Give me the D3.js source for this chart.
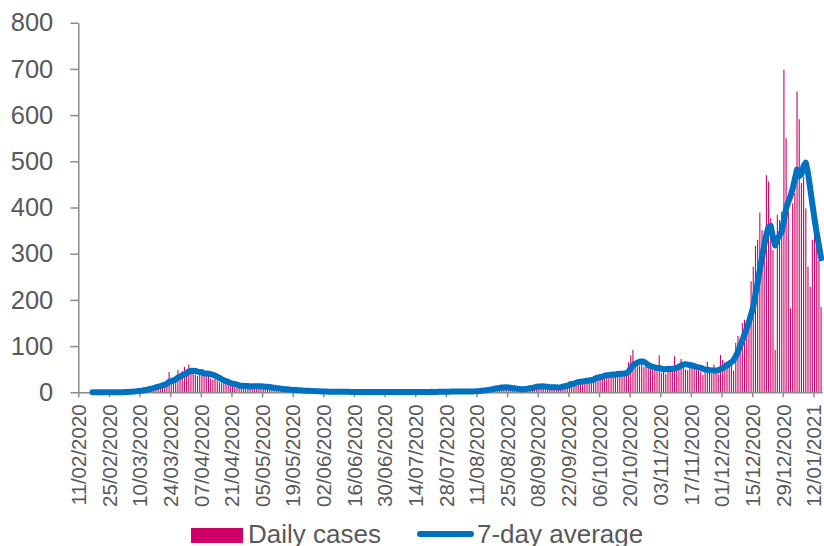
<!DOCTYPE html>
<html>
<head>
<meta charset="utf-8">
<script src="https://cdn.jsdelivr.net/npm/d3@7"></script>
<style>
  body { margin: 0; background: #fff; }
  svg { display: block; font-family: "Liberation Sans", Arial, sans-serif; }
</style>
</head>
<body>
<svg width="824" height="546"></svg>
<script>
// first day of the series, one value per day after it
var startDate = "11/02/2020";

var tickLabels = ["11/02/2020", "25/02/2020", "10/03/2020", "24/03/2020", "07/04/2020",
  "21/04/2020", "05/05/2020", "19/05/2020", "02/06/2020", "16/06/2020", "30/06/2020",
  "14/07/2020", "28/07/2020", "11/08/2020", "25/08/2020", "08/09/2020", "22/09/2020",
  "06/10/2020", "20/10/2020", "03/11/2020", "17/11/2020", "01/12/2020", "15/12/2020",
  "29/12/2020", "12/01/2021"];

var yTicks = [0, 100, 200, 300, 400, 500, 600, 700, 800];

// daily cases, 14 days per row (row starts at each tick label)
var dailyCases = [
  0, 0, 0, 0, 0, 0, 0, 0, 0, 0, 0, 0, 0, 0,
  0, 0, 0, 0, 1, 0, 1, 2, 1, 2, 3, 2, 4, 5,
  5, 7, 8, 9, 12, 10, 14, 16, 18, 15, 20, 22, 24, 44,
  26, 30, 28, 48, 35, 46, 55, 42, 60, 40, 44, 38, 35, 45,
  44, 40, 38, 42, 30, 28, 32, 26, 22, 20, 24, 18, 16, 15,
  14, 18, 12, 10, 16, 13, 11, 15, 12, 14, 10, 16, 13, 12,
  11, 9, 12, 8, 7, 10, 6, 8, 5, 7, 4, 6, 5, 3,
  4, 5, 3, 4, 2, 3, 4, 2, 3, 1, 2, 2, 1, 2,
  1, 2, 1, 0, 1, 2, 1, 1, 0, 2, 1, 1, 0, 1,
  1, 0, 1, 1, 2, 0, 1, 0, 1, 1, 0, 2, 1, 0,
  0, 1, 0, 1, 0, 1, 2, 0, 1, 0, 1, 1, 0, 1,
  1, 0, 2, 1, 0, 1, 1, 2, 0, 1, 2, 1, 1, 2,
  2, 1, 3, 1, 2, 2, 1, 3, 2, 1, 2, 3, 2, 4,
  3, 4, 6, 5, 7, 8, 9, 10, 12, 11, 9, 13, 10, 11,
  8, 6, 5, 7, 9, 6, 4, 8, 10, 12, 14, 11, 16, 13,
  12, 10, 15, 9, 8, 11, 13, 10, 9, 14, 12, 16, 18, 20,
  24, 22, 18, 26, 28, 20, 25, 30, 27, 24, 32, 34, 38, 36,
  40, 30, 42, 38, 36, 44, 40, 35, 45, 38, 42, 40, 48, 65,
  80, 92, 65, 60, 58, 62, 55, 60, 52, 50, 48, 55, 45, 80,
  42, 48, 40, 52, 45, 50, 78, 55, 62, 72, 58, 50, 48, 65,
  55, 62, 48, 60, 45, 38, 42, 66, 45, 40, 60, 42, 40, 81,
  70, 66, 62, 65, 60, 47, 107, 122, 118, 150, 157, 135, 171, 240,
  272, 317, 330, 389, 351, 300, 470, 456, 377, 308, 92, 384, 373, 391,
  698, 550, 391, 182, 409, 431, 651, 591, 453, 467, 398, 272, 229, 330,
  395, 330, 287, 185
];

var sevenDayAvg = [
  null, null, null, null, null, null, 0, 0, 0, 0, 0, 0, 0, 0,
  0, 0, 0, 0, 0.1, 0.1, 0.3, 0.6, 0.7, 1, 1.4, 1.6, 2, 2.7,
  3.1, 4, 4.9, 5.7, 7.1, 8, 9.3, 10.9, 12.4, 13.4, 15, 16.4, 18.4, 22.7,
  24.1, 25.9, 27.7, 31.7, 33.6, 36.7, 38.3, 40.6, 44.9, 46.6, 46, 46.4, 44.9, 43.4,
  43.7, 40.9, 40.6, 40.3, 39.1, 38.1, 36.3, 33.7, 31.1, 28.6, 26, 24.3, 22.6, 20.1,
  18.4, 17.9, 16.7, 14.7, 14.4, 14, 13.4, 13.6, 12.7, 13, 13, 13, 13, 13.1,
  12.6, 12.1, 11.9, 11.6, 10.3, 9.9, 9, 8.6, 8, 7.3, 6.7, 6.6, 5.9, 5.4,
  4.9, 4.9, 4.3, 4.3, 3.7, 3.4, 3.6, 3.3, 3, 2.7, 2.4, 2.4, 2.1, 1.9,
  1.7, 1.6, 1.4, 1.1, 1.1, 1.3, 1.1, 1.1, 1, 1, 1.1, 1.1, 0.9, 0.9,
  0.9, 0.7, 0.9, 0.9, 0.9, 0.9, 0.9, 0.7, 0.9, 0.9, 0.7, 0.7, 0.9, 0.7,
  0.7, 0.7, 0.6, 0.6, 0.4, 0.6, 0.7, 0.7, 0.7, 0.7, 0.7, 0.9, 0.6, 0.6,
  0.7, 0.6, 0.9, 0.9, 0.7, 0.9, 0.9, 1, 0.9, 0.9, 1, 1, 1.1, 1.3,
  1.3, 1.4, 1.6, 1.6, 1.7, 1.9, 1.7, 1.9, 2, 1.7, 1.9, 2, 2, 2.4,
  2.4, 2.7, 3.4, 3.9, 4.4, 5.3, 6, 7, 8.1, 8.9, 9.4, 10.3, 10.6, 10.9,
  10.6, 9.7, 8.9, 8.6, 8, 7.4, 6.4, 6.4, 7, 8, 9, 9.3, 10.7, 12,
  12.6, 12.6, 13, 12.3, 11.9, 11.1, 11.1, 10.9, 10.7, 10.6, 11, 12.1, 13.1, 14.1,
  16.1, 18, 18.6, 20.6, 22.3, 22.6, 23.3, 24.1, 24.9, 25.7, 26.6, 27.4, 30, 31.6,
  33, 33.4, 36, 36.9, 37.1, 38, 38.6, 37.9, 40, 39.4, 40, 40.6, 41.1, 44.7,
  52, 58, 62, 64, 66, 67, 66, 63, 59, 57, 55, 54, 52, 53,
  51, 50, 50, 51, 50, 51, 51, 53, 55, 58, 60, 61, 60, 59,
  58, 57, 55, 54, 53, 51, 49, 49, 48, 47, 47, 47, 48, 50,
  52, 55, 58, 62, 65, 70, 78, 88, 100, 112, 125, 138, 152, 168,
  185, 212, 238, 266, 292, 318, 342, 358, 360, 335, 318, 332, 340, 348,
  372, 398, 412, 425, 440, 462, 482, 468, 472, 490, 497, 475, 442, 408,
  375, 345, 318, 290
];

var textColor = "#595959", axisColor = "#8c8c8c";
var barColor = "#cc0066", lineColor = "#0070c0";

var svg = d3.select("svg");
var parseDate = d3.utcParse("%d/%m/%Y");
var start = parseDate(startDate);
var end = d3.utcDay.offset(start, dailyCases.length);

var x = d3.scaleUtc().domain([start, end]).range([78.3, 822.2]);
var y = d3.scaleLinear().domain([0, 800]).range([392.3, 22.7]);

var days = dailyCases.map((v, i) => ({
  date: d3.utcDay.offset(start, i),
  cases: v,
  avg: sevenDayAvg[i]
}));
var dayW = x(d3.utcDay.offset(start, 1)) - x(start);
var barW = 1.1;

// bars
svg.append("g")
  .selectAll("rect")
  .data(days)
  .enter()
  .append("rect")
  .attr("x", d => x(d.date) + (dayW - barW) / 2)
  .attr("y", d => y(d.cases))
  .attr("width", barW)
  .attr("height", d => y(0) - y(d.cases))
  .attr("fill", barColor);

// y axis
var yAxis = svg.append("g")
  .attr("transform", "translate(78.3,0)")
  .call(d3.axisLeft(y).tickValues(yTicks).tickSize(8).tickSizeOuter(0).tickPadding(17));
yAxis.selectAll("text")
  .attr("fill", textColor)
  .style("font-size", "25.5px")
  .style("font-family", "'Liberation Sans', Arial, sans-serif");

// x axis
var tickDates = tickLabels.map(parseDate);
var xAxis = svg.append("g")
  .attr("transform", "translate(0,392.3)")
  .call(d3.axisBottom(x).tickValues(tickDates).tickSize(5).tickSizeOuter(0)
    .tickFormat((d, i) => tickLabels[i]));
xAxis.selectAll("text")
  .attr("fill", textColor)
  .attr("transform", "rotate(-90)")
  .attr("text-anchor", "end")
  .attr("x", -12)
  .attr("y", 0)
  .attr("dy", "0.35em")
  .style("font-size", "20.5px")
  .style("font-family", "'Liberation Sans', Arial, sans-serif");

svg.selectAll(".domain, .tick line")
  .attr("stroke", axisColor)
  .attr("stroke-width", 1.5);

// 7-day average line
var line = d3.line()
  .defined(d => d.avg != null)
  .x(d => x(d.date) + dayW / 2)
  .y(d => y(d.avg));

svg.append("path")
  .datum(days)
  .attr("d", line)
  .attr("fill", "none")
  .attr("stroke", lineColor)
  .attr("stroke-width", 6)
  .attr("stroke-linejoin", "round")
  .attr("stroke-linecap", "round");

// legend (sits on the bottom edge, as in the original)
var legend = svg.append("g").style("font-size", "26px").attr("fill", textColor);
legend.append("rect")
  .attr("x", 191).attr("y", 528).attr("width", 52).attr("height", 15)
  .attr("fill", barColor);
legend.append("text").attr("x", 248).attr("y", 543).text("Daily cases");
legend.append("line")
  .attr("x1", 420).attr("x2", 471).attr("y1", 534).attr("y2", 534)
  .attr("stroke", lineColor).attr("stroke-width", 6).attr("stroke-linecap", "round");
legend.append("text").attr("x", 477).attr("y", 543).text("7-day average");
</script>
</body>
</html>
